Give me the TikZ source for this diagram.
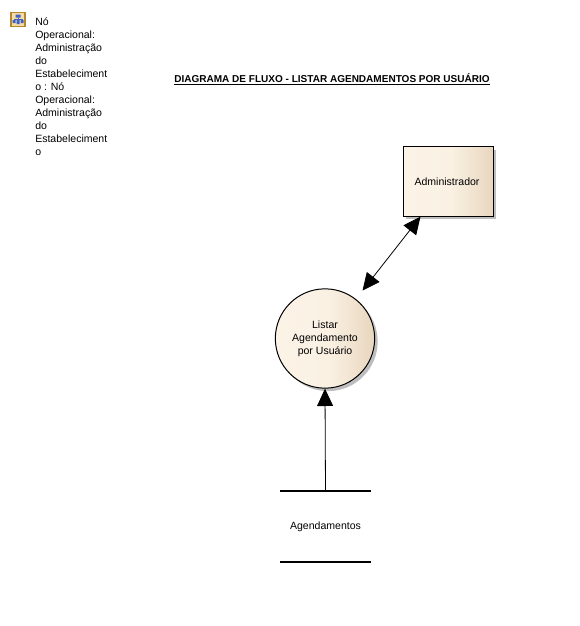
\documentclass[tikz,border=0pt]{standalone}
\usepackage{fontspec}
\setmainfont{Liberation Sans}
\usetikzlibrary{arrows.meta,shadows}
\definecolor{fillL}{HTML}{FBF3E6}
\definecolor{fillM}{HTML}{FAF1E3}
\definecolor{fillR}{HTML}{E8D6BE}
\definecolor{shadowC}{HTML}{BEBEBE}
\definecolor{iconB}{HTML}{3F62C8}
\definecolor{iconF}{HTML}{F3DDA6}
\definecolor{iconE}{HTML}{B8862E}
\pgfdeclarehorizontalshading{dfdshade}{100bp}{color(0bp)=(fillL); color(25bp)=(fillL); color(52bp)=(fillM); color(75bp)=(fillR); color(100bp)=(fillR)}
\tikzset{
  x=0.75pt,y=-0.75pt,
  lab/.style={font=\fontsize{7.9pt}{9.75pt}\selectfont,align=center,text=black,inner sep=0pt},
  dfd/.style={draw=black,line width=0.75pt,shading=dfdshade,
    general shadow={fill=shadowC,shadow xshift=2.25pt,shadow yshift=-2.25pt},lab},
  flow/.style={draw=black,line width=0.6pt,{Triangle[length=13pt,width=12pt]}-{Triangle[length=13pt,width=12pt]}},
  flowone/.style={draw=black,line width=0.6pt,-{Triangle[length=13pt,width=12pt]}},
  bar/.style={draw=black,line width=1.5pt},
}
\begin{document}
\begin{tikzpicture}
\useasboundingbox (0,0) rectangle (580,626);
% icon
\node[draw=iconE,line width=0.8pt,fill=iconF,minimum width=10.5pt,minimum height=10.5pt,inner sep=0pt] (icon) at (18,19.5) {};
\fill[iconB] (15.5,14.5) rectangle (20.5,17.5) (12.5,20) rectangle (15.5,23) (20.5,20) rectangle (23.5,23) (16.5,20) rectangle (19.5,24);
\draw[iconB,line width=0.4pt] (18,17.5) -- (18,20) (14,20) -- (14,18.8) -- (22,18.8) -- (22,20);
% side text
\node[lab,align=left,anchor=north west] (side) at (35,17.5) {Nó\\Operacional:\\Administração\\do\\Estabeleciment\\o : Nó\\Operacional:\\Administração\\do\\Estabeleciment\\o};
% title
\node[font=\fontsize{7.52pt}{9.75pt}\selectfont\bfseries,inner sep=0pt] (title) at (332,79.5) {\underline{DIAGRAMA DE FLUXO - LISTAR AGENDAMENTOS POR USUÁRIO}};
% nodes
\node[dfd,rectangle,minimum width=67.5pt,minimum height=52pt] (adm) at (448,181.5) {\hspace*{-1.5pt}Administrador};
\node[dfd,circle,minimum size=74.5pt] (proc) at (325,338.5) {Listar\\Agendamento\\por Usuário};
\node[lab,minimum width=68pt,minimum height=52.5pt] (store) at (325.5,526.5) {Agendamentos};
\draw[bar] (store.north west) -- (store.north east);
\draw[bar] (store.south west) -- (store.south east);
% connectors
\draw[flow,shorten >=8pt] (adm) -- (proc);
\draw[flowone] (store.north) -- (proc.south);
\end{tikzpicture}
\end{document}
